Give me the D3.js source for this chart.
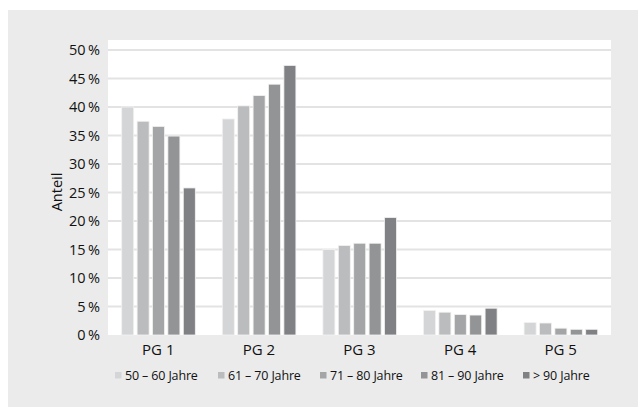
<!DOCTYPE html>
<html><head><meta charset="utf-8">
<script src="https://cdn.jsdelivr.net/npm/d3@7/dist/d3.min.js"></script>
<style>body{margin:0;background:#fff}svg{display:block}text{font-family:"Open Sans",sans-serif;fill:#111}</style>
</head><body><svg id="c" width="638" height="407"></svg>
<script>
const categories = ["PG 1","PG 2","PG 3","PG 4","PG 5"];
const seriesNames = ["50 – 60 Jahre","61 – 70 Jahre","71 – 80 Jahre","81 – 90 Jahre","> 90 Jahre"];
const s50_60 = [40.0, 37.9, 15.0, 4.3, 2.2];
const s61_70 = [37.5, 40.2, 15.7, 4.0, 2.1];
const s71_80 = [36.6, 42.0, 16.1, 3.6, 1.2];
const s81_90 = [34.9, 44.0, 16.1, 3.5, 1.0];
const s90p   = [25.8, 47.3, 20.6, 4.7, 1.0];
const yTicks = [0,5,10,15,20,25,30,35,40,45,50];
const colors = ["#d4d5d7","#bbbcbe","#a4a5a7","#939496","#808184"];

const series = [s50_60, s61_70, s71_80, s81_90, s90p];
const svg = d3.select("#c");
svg.append("rect").attr("x",8).attr("y",10).attr("width",630).attr("height",397).attr("fill","#ebebeb");
const L=108,R=611,T=40,B=335;
svg.append("rect").attr("x",L).attr("y",T).attr("width",R-L).attr("height",B-T).attr("fill","#fff");
const x = d3.scaleBand().domain(categories).range([L,R]).padding(0);
const xi = d3.scaleBand().domain(d3.range(5)).range([12,89]).paddingInner(0.22).paddingOuter(0.11);
const y = d3.scaleLinear().domain([0,50]).range([B,50]);

svg.append("g").selectAll("line").data(yTicks.filter(d=>d>0)).join("line")
  .attr("x1",L).attr("x2",R).attr("y1",d=>y(d)).attr("y2",d=>y(d))
  .attr("stroke","#e3e3e3").attr("stroke-width",1.8);

const yAxis = d3.axisLeft(y).tickValues(yTicks).tickSize(0).tickPadding(8).tickFormat(d=>d+"\u2009%");
const ga = svg.append("g").attr("transform",`translate(${L},0)`).call(yAxis);
ga.select(".domain").remove();
ga.selectAll("text").attr("font-size",14.5).attr("font-family","Open Sans").attr("fill","#111");

const g = svg.append("g");
series.forEach((vals,si)=>{
  g.selectAll(".s"+si).data(vals).join("rect")
    .attr("x",(d,i)=>x(categories[i])+xi(si)).attr("width",xi.bandwidth())
    .attr("y",d=>y(d)).attr("height",d=>B-y(d))
    .attr("fill",colors[si]).attr("stroke","#f2f2f2").attr("stroke-width",0.8);
});

const xAxis = d3.axisBottom(x).tickSize(0).tickPadding(9);
const gx = svg.append("g").attr("transform",`translate(0,${B})`).call(xAxis);
gx.select(".domain").remove();
gx.selectAll("text").attr("font-size",15).attr("font-family","Open Sans").attr("fill","#111");

svg.append("text").attr("transform","translate(62,192) rotate(-90)").attr("text-anchor","middle")
  .attr("font-size",14.5).text("Anteil");

const legX = [115,218,320,421,523];
const lg = svg.append("g");
seriesNames.forEach((n,i)=>{
  lg.append("rect").attr("x",legX[i]).attr("y",372).attr("width",6.5).attr("height",6.5).attr("fill",colors[i]);
  lg.append("text").attr("x",legX[i]+10).attr("y",380).attr("font-size",12.5).attr("letter-spacing",-0.15).text(n);
});
</script></body></html>
